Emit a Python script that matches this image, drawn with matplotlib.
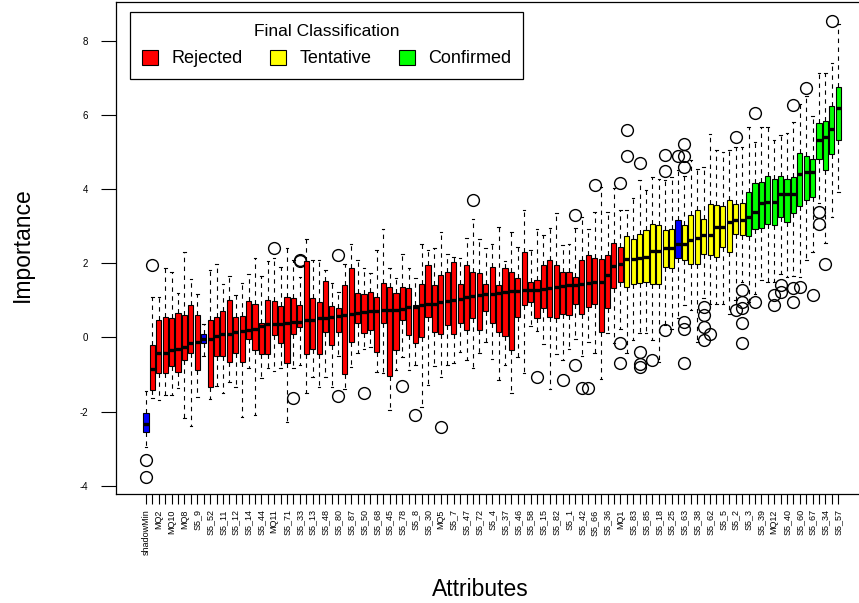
import numpy as np
import matplotlib
matplotlib.use("Agg")
import matplotlib.pyplot as plt
from matplotlib.patches import Patch

plt.rcParams['font.family'] = ['Liberation Sans', 'DejaVu Sans']

# every other attribute name is printed under the axis, the rest are left blank
labels = ["shadowMin", "", "MQ2", "", "MQ10", "", "MQ8", "", "S5_9", "",
          "S5_52", "", "S5_11", "", "S5_12", "", "S5_14", "", "S5_44", "",
          "MQ11", "", "S5_71", "", "S5_33", "", "S5_13", "", "S5_48", "",
          "S5_80", "", "S5_87", "", "S5_50", "", "S5_68", "", "S5_45", "",
          "S5_78", "", "S5_8", "", "S5_30", "", "MQ5", "", "S5_7", "",
          "S5_47", "", "S5_72", "", "S5_4", "", "S5_37", "", "S5_46", "",
          "S5_58", "", "S5_15", "", "S5_82", "", "S5_1", "", "S5_42", "",
          "S5_66", "", "S5_36", "", "MQ1", "", "S5_83", "", "S5_85", "",
          "S5_18", "", "S5_25", "", "S5_63", "", "S5_38", "", "S5_62", "",
          "S5_5", "", "S5_2", "", "S5_3", "", "S5_39", "", "MQ12", "",
          "S5_40", "", "S5_60", "", "S5_67", "", "S5_34", "", "S5_57"]

# S = shadow, R = rejected, T = tentative, C = confirmed
decision = ("S" + "R" * 8 + "S" + "R" * 65 + "T" * 8 + "S" + "T" * 10 + "C" * 15)

whislo = [-2.95, -1.62, -1.69, -1.55, -1.55, -1.37, -2.18, -2.39, -1.60, -0.50,
          -1.67, -1.31, -1.49, -1.19, -1.33, -2.15, -0.83, -2.09, -1.10, -0.83,
          -0.90, -0.83, -2.27, -0.83, -0.74, -1.51, -1.06, -1.33, -1.08, -1.33,
          -0.50, -1.40, -0.81, -0.43, -0.30, -0.27, -0.92, -0.95, -1.96, -0.88,
          -0.52, -0.88, -0.75, -1.88, -1.28, -0.77, -1.08, -0.75, -0.70, -0.39,
          -0.61, -0.83, -0.43, -0.12, -0.59, -1.15, -0.75, -1.49, -0.52, -0.95,
          0.30, 0.18, -0.18, -1.40, -0.45, -0.61, -0.30, -0.03, -0.50, -0.12,
          -0.43, -1.13, 0.11, -0.16, 0.24, -0.41, -0.07, 0.11, 0.11, -0.07,
          -0.65, 0.33, 0.24, 0.51, 0.87, 0.74, -0.12, 1.05, 0.91, 0.91,
          0.91, 0.64, 1.00, 1.50, 0.96, 1.18, 1.54, 1.50, 1.50, 1.72,
          1.62, 1.65, 1.63, 2.08, 2.31, 3.61, 2.55, 3.25, 3.92]
q1 = [-2.56, -1.42, -0.95, -0.97, -0.76, -0.92, -0.61, -0.43, -0.88, -0.16,
      -1.33, -0.50, -0.50, -0.65, -0.41, -0.65, -0.05, -0.34, -0.45, -0.45,
      0.06, -0.16, -0.68, 0.09, 0.29, -0.45, -0.30, -0.45, 0.15, -0.21,
      0.15, -0.99, -0.12, 0.38, 0.12, 0.21, -0.39, 0.39, -1.04, -0.33,
      0.47, 0.06, -0.14, 0.02, 0.56, 0.15, 0.09, 0.33, 0.09, 0.38,
      0.20, 0.51, 0.20, 0.72, 0.39, 0.15, 0.04, -0.33, 0.56, 0.87,
      0.96, 0.51, 0.78, 0.56, 0.51, 0.63, 0.60, 0.90, 0.63, 0.81,
      0.90, 0.15, 0.78, 1.32, 1.50, 1.36, 1.45, 1.47, 1.50, 1.45,
      1.43, 1.90, 1.86, 2.15, 2.08, 1.99, 1.99, 2.26, 2.22, 2.17,
      2.44, 2.31, 2.80, 2.75, 2.73, 2.93, 2.96, 3.05, 3.02, 3.25,
      3.11, 3.34, 3.54, 3.70, 3.79, 4.82, 4.52, 4.93, 5.31]
med = [-2.34, -0.86, -0.43, -0.41, -0.34, -0.30, -0.25, -0.16, -0.12, -0.05,
       -0.05, 0.04, 0.09, 0.09, 0.15, 0.18, 0.20, 0.24, 0.30, 0.36,
       0.36, 0.36, 0.38, 0.42, 0.42, 0.47, 0.48, 0.51, 0.53, 0.56,
       0.57, 0.60, 0.62, 0.65, 0.68, 0.72, 0.72, 0.73, 0.74, 0.75,
       0.77, 0.81, 0.82, 0.87, 0.89, 0.91, 0.96, 0.99, 1.02, 1.04,
       1.09, 1.11, 1.14, 1.16, 1.18, 1.20, 1.22, 1.24, 1.26, 1.27,
       1.27, 1.29, 1.31, 1.34, 1.36, 1.38, 1.40, 1.42, 1.45, 1.47,
       1.49, 1.50, 1.68, 1.93, 1.99, 2.12, 2.12, 2.14, 2.17, 2.33,
       2.33, 2.42, 2.42, 2.53, 2.53, 2.62, 2.69, 2.75, 2.75, 2.98,
       2.98, 3.11, 3.16, 3.16, 3.25, 3.38, 3.62, 3.65, 3.65, 3.86,
       3.86, 3.86, 4.41, 4.46, 4.46, 5.31, 5.40, 5.63, 6.19]
q3 = [-2.03, -0.21, 0.48, 0.54, 0.51, 0.67, 0.60, 0.87, 0.60, 0.08,
      0.47, 0.56, 0.72, 1.00, 0.54, 0.57, 0.99, 0.89, 0.40, 1.00,
      0.98, 0.84, 1.08, 1.05, 0.87, 2.05, 1.05, 0.96, 1.52, 0.84,
      0.78, 1.41, 1.88, 1.20, 1.16, 1.23, 1.09, 1.48, 1.36, 1.21,
      1.36, 1.34, 0.87, 1.43, 1.95, 1.41, 1.68, 1.77, 2.04, 1.45,
      1.96, 1.77, 1.74, 1.44, 1.90, 1.41, 1.86, 1.77, 1.59, 2.29,
      1.50, 1.56, 1.95, 2.10, 1.96, 1.77, 1.77, 1.63, 2.08, 2.22,
      2.14, 2.12, 2.22, 2.54, 2.44, 2.72, 2.66, 2.80, 2.90, 3.05,
      3.02, 2.89, 2.93, 3.16, 3.02, 3.29, 3.43, 3.20, 3.59, 3.56,
      3.53, 3.71, 3.60, 3.62, 3.92, 4.15, 4.19, 4.34, 4.28, 4.34,
      4.28, 4.32, 4.97, 4.88, 4.82, 5.78, 5.83, 6.23, 6.76]
whishi = [-1.44, 1.09, 1.08, 1.88, 1.75, 1.21, 2.31, 1.58, 1.18, 0.35,
          1.81, 1.99, 1.45, 1.66, 1.14, 1.48, 1.70, 2.13, 1.65, 2.05,
          2.13, 1.90, 2.40, 2.08, 1.63, 2.64, 2.10, 2.10, 1.81, 1.47,
          1.23, 1.99, 2.53, 2.08, 1.86, 1.74, 2.35, 2.91, 1.86, 1.59,
          2.26, 1.88, 1.59, 2.53, 2.35, 2.40, 2.84, 2.26, 2.17, 2.13,
          2.69, 3.18, 2.64, 2.40, 2.53, 2.98, 2.05, 2.84, 2.44, 3.44,
          2.35, 2.93, 2.75, 2.96, 3.36, 2.50, 2.51, 2.95, 3.25, 2.91,
          3.38, 4.05, 3.38, 4.03, 3.43, 3.44, 3.77, 4.23, 3.98, 4.32,
          4.28, 4.23, 4.32, 4.50, 4.35, 4.77, 4.55, 4.59, 5.49, 5.04,
          5.00, 5.04, 5.13, 5.13, 5.67, 5.27, 5.67, 5.67, 5.33, 5.45,
          5.51, 5.81, 6.30, 6.50, 5.98, 7.12, 7.12, 7.39, 8.45]
outliers = {0: [-3.31, -3.75], 1: [1.94], 20: [2.41], 23: [-1.64],
            24: [2.10, 2.05], 30: [2.22, -1.58], 34: [-1.51], 40: [-1.31],
            42: [-2.09], 46: [-2.42], 51: [3.70], 61: [-1.08], 65: [-1.15],
            67: [3.31, -0.75], 68: [-1.37], 69: [-1.37], 70: [4.10],
            74: [4.16, -0.15, -0.70], 75: [5.58, 4.89],
            77: [4.70, -0.39, -0.72, -0.80], 79: [-0.61],
            81: [4.91, 4.48, 0.20], 83: [4.88],
            84: [5.22, 4.88, 4.59, 0.42, 0.22, -0.68],
            87: [0.83, 0.60, 0.29, -0.07], 88: [0.08], 92: [5.40, 0.74],
            93: [1.27, 0.96, 0.78, 0.38, -0.14], 95: [6.05, 0.96],
            98: [1.14, 0.87], 99: [1.41, 1.23], 101: [6.26, 1.32, 0.96],
            102: [1.35], 103: [6.73], 104: [1.14], 105: [3.38, 3.07],
            106: [1.99], 107: [8.54]}

colours = {"S": "#0000FF", "R": "#FF0000", "T": "#FFFF00", "C": "#00FF00"}

stats = []
for i in range(len(med)):
    stats.append(dict(whislo=whislo[i], q1=q1[i], med=med[i], q3=q3[i],
                      whishi=whishi[i], fliers=outliers.get(i, [])))
pos = np.arange(len(med))

fig = plt.figure(figsize=(8.59, 6.03), dpi=100)
ax = fig.add_axes([116 / 859, 1 - 494 / 603, 1 - 116 / 859, 492 / 603])

bp = ax.bxp(stats, positions=pos, widths=0.8, capwidths=0.4, patch_artist=True,
            boxprops=dict(edgecolor="black", linewidth=0.8),
            whiskerprops=dict(color="black", linewidth=0.8, linestyle=(0, (4, 4))),
            capprops=dict(color="black", linewidth=0.8),
            medianprops=dict(color="black", linewidth=2.4, solid_capstyle="butt"),
            flierprops=dict(marker="o", markersize=8.5, markerfacecolor="none",
                            markeredgecolor="black", markeredgewidth=1.0))
for box, d in zip(bp["boxes"], decision):
    box.set_facecolor(colours[d])

ax.set_xlim(-30 / 6.41, 713 / 6.41)
ax.set_ylim(-4.22, 9.04)
ax.set_xticks(pos)
ax.set_xticklabels(labels, rotation=90, fontsize=6.5)
ax.set_yticks([-4, -2, 0, 2, 4, 6, 8])
ax.set_yticklabels(["-4", "-2", "0", "2", "4", "6", "8"], fontsize=7)
ax.tick_params(axis="y", length=11, width=0.8, pad=9)
ax.tick_params(axis="x", length=7, width=0.8, pad=4)
ax.spines["right"].set_visible(False)
for s in ["left", "top", "bottom"]:
    ax.spines[s].set_linewidth(0.9)

fig.text(22 / 859, 1 - 245 / 603, "Importance", rotation=90, ha="center",
         va="center", fontsize=16.5)
fig.text(480 / 859, 1 - 589 / 603, "Attributes", ha="center", va="center",
         fontsize=16.5)

handles = [Patch(facecolor=colours["R"], edgecolor="black", linewidth=0.8, label="Rejected"),
           Patch(facecolor=colours["T"], edgecolor="black", linewidth=0.8, label="Tentative"),
           Patch(facecolor=colours["C"], edgecolor="black", linewidth=0.8, label="Confirmed")]
leg = ax.legend(handles=handles, title="Final Classification", ncol=3,
                loc="upper left", bbox_to_anchor=(14 / 743, 1 - 10 / 492),
                borderaxespad=0, fontsize=13, title_fontsize=12.5,
                handlelength=0.9, handleheight=0.9, handletextpad=0.75,
                columnspacing=1.5, borderpad=0.65, labelspacing=0.6,
                fancybox=False, framealpha=1, edgecolor="black")
leg.get_frame().set_linewidth(0.9)

fig.savefig("out.png", dpi=100)
